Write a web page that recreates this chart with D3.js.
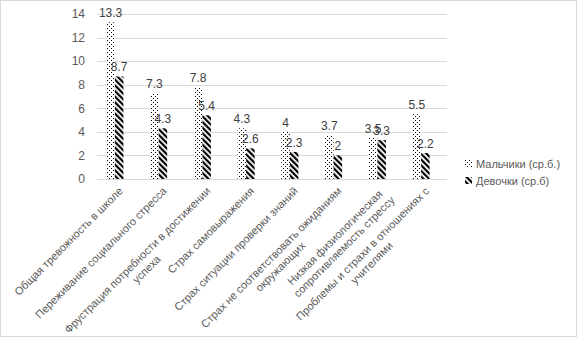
<!DOCTYPE html>
<html>
<head>
<meta charset="utf-8">
<script src="https://cdn.jsdelivr.net/npm/d3@7"></script>
<style>
  body { margin: 0; background: #fff; }
  svg { display: block; font-family: "Liberation Sans", Arial, sans-serif; }
</style>
</head>
<body>
<script>
// data
const categories = [
  ["Общая тревожность в школе"],
  ["Переживание социального стресса"],
  ["Фрустрация потребности в достижении", "успеха"],
  ["Страх самовыражения"],
  ["Страх ситуации проверки знаний"],
  ["Страх не соответствовать ожиданиям", "окружающих"],
  ["Низкая физиологическая", "сопротивляемость стрессу"],
  ["Проблемы и страхи в отношениях с", "учителями"],
]
const boys = [13.3, 7.3, 7.8, 4.3, 4, 3.7, 3.5, 5.5]
const girls = [8.7, 4.3, 5.4, 2.6, 2.3, 2, 3.3, 2.2]
const seriesNames = ["Мальчики (ср.б.)", "Девочки (ср.б)"]
const yTicks = [0, 2, 4, 6, 8, 10, 12, 14]

function drawChart() {
  const dimensions = {
    width: 577,
    height: 337,
    margin: { top: 14, left: 93 },
    boundedWidth: 350,
    boundedHeight: 165,
  }

  const keys = categories.map((d, i) => i)
  const series = [
    { name: seriesNames[0], values: boys, fill: "url(#dots)" },
    { name: seriesNames[1], values: girls, fill: "url(#stripes)" },
  ]

  const wrapper = d3.select("body")
    .append("svg")
      .attr("width", dimensions.width)
      .attr("height", dimensions.height)

  // patterns
  const defs = wrapper.append("defs")
  const dots = defs.append("pattern")
      .attr("id", "dots")
      .attr("patternUnits", "userSpaceOnUse")
      .attr("width", 4)
      .attr("height", 4)
  dots.append("rect").attr("width", 4).attr("height", 4).attr("fill", "#fff")
  dots.append("rect").attr("width", 1).attr("height", 1).attr("fill", "#000")
  dots.append("rect").attr("x", 2).attr("y", 2).attr("width", 1).attr("height", 1).attr("fill", "#000")

  const stripes = defs.append("pattern")
      .attr("id", "stripes")
      .attr("patternUnits", "userSpaceOnUse")
      .attr("width", 4)
      .attr("height", 4)
      .attr("patternTransform", "rotate(-45)")
  stripes.append("rect").attr("width", 4).attr("height", 4).attr("fill", "#fff")
  stripes.append("rect").attr("width", 2.2).attr("height", 4).attr("fill", "#000")

  // frame
  wrapper.append("rect")
      .attr("x", 0.5).attr("y", 0.5)
      .attr("width", dimensions.width - 1)
      .attr("height", dimensions.height - 1)
      .attr("fill", "none")
      .attr("stroke", "#d9d9d9")

  const bounds = wrapper.append("g")
      .attr("transform", `translate(${dimensions.margin.left}, ${dimensions.margin.top})`)

  // scales
  const x0 = d3.scaleBand()
    .domain(keys)
    .range([0, dimensions.boundedWidth])
    .paddingInner(0.61)
    .paddingOuter(0.305)

  const x1 = d3.scaleBand()
    .domain([0, 1])
    .range([0, x0.bandwidth()])

  const yScale = d3.scaleLinear()
    .domain([0, 14])
    .range([dimensions.boundedHeight, 0])

  // gridlines
  bounds.append("g")
    .selectAll("line")
    .data(yTicks)
    .join("line")
      .attr("x1", 4)
      .attr("x2", dimensions.boundedWidth + 4)
      .attr("y1", d => Math.round(yScale(d)) + 0.5)
      .attr("y2", d => Math.round(yScale(d)) + 0.5)
      .attr("stroke", "#d9d9d9")

  // y axis labels
  const yAxis = bounds.append("g")
      .call(d3.axisLeft(yScale).tickValues(yTicks).tickSize(0).tickPadding(8))
  yAxis.select(".domain").remove()
  yAxis.selectAll("text")
      .attr("fill", "#595959")
      .style("font-size", "12px")

  // bars
  const groups = bounds.selectAll(".group")
    .data(series)
    .join("g")
      .attr("class", "group")

  groups.selectAll("rect")
    .data((s, si) => s.values.map((v, i) => ({ v, i, si, fill: s.fill })))
    .join("rect")
      .attr("x", d => x0(d.i) + x1(d.si))
      .attr("y", d => yScale(d.v))
      .attr("width", x1.bandwidth())
      .attr("height", d => dimensions.boundedHeight - yScale(d.v))
      .attr("fill", d => d.fill)

  // data labels
  groups.selectAll("text")
    .data((s, si) => s.values.map((v, i) => ({ v, i, si })))
    .join("text")
      .attr("x", d => x0(d.i) + x1(d.si) + x1.bandwidth() / 2)
      .attr("y", d => yScale(d.v) - 5)
      .attr("text-anchor", "middle")
      .attr("fill", "#404040")
      .style("font-size", "12px")
      .text(d => d.v)

  // category labels, rotated
  const catLabels = bounds.append("g")
    .selectAll("g")
    .data(categories)
    .join("g")
      .attr("transform", (d, i) =>
        `translate(${x0(i) + x0.bandwidth() / 2 + 6}, ${dimensions.boundedHeight + 10}) rotate(-45)`)

  catLabels.each(function(lines) {
    const g = d3.select(this)
    const texts = g.selectAll("text")
      .data(lines)
      .join("text")
        .attr("y", (d, j) => j * 13)
        .attr("dy", "0.35em")
        .attr("fill", "#595959")
        .style("font-size", "11px")
        .text(d => d)
    const widths = texts.nodes().map(n => n.getComputedTextLength())
    const maxW = d3.max(widths)
    texts.attr("x", -maxW / 2).attr("text-anchor", "middle")
  })

  // legend
  const legend = wrapper.append("g")
      .attr("transform", "translate(465, 160)")
  const items = legend.selectAll("g")
    .data(series)
    .join("g")
      .attr("transform", (d, i) => `translate(0, ${i * 17})`)
  items.append("rect")
      .attr("width", 7)
      .attr("height", 7)
      .attr("fill", d => d.fill)
  items.append("text")
      .attr("x", 11)
      .attr("y", 4)
      .attr("dy", "0.35em")
      .attr("fill", "#595959")
      .style("font-size", "11px")
      .text(d => d.name)
}
drawChart()
</script>
</body>
</html>
